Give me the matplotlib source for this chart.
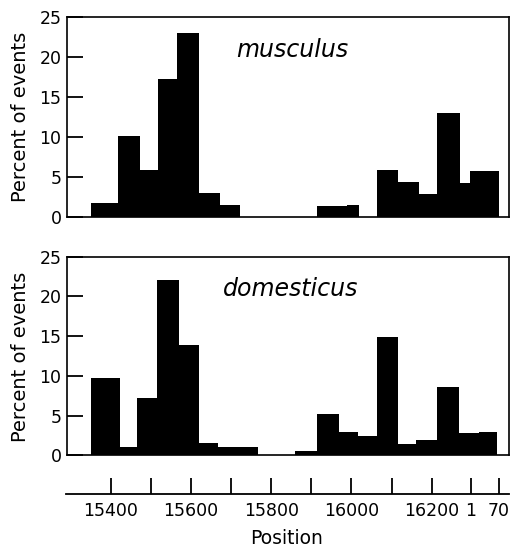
import matplotlib
matplotlib.use("Agg")
from matplotlib import pyplot as plt
import numpy as np

# bin edges (position, bp; after the origin the count goes on past 16298) and heights
mus_edges_a = [15352, 15419, 15473, 15519, 15566, 15621, 15673, 15723]
mus_vals_a = [1.7, 10.1, 5.9, 17.2, 23.0, 3.0, 1.5]
mus_edges_b = [15916, 15990, 16021]
mus_vals_b = [1.4, 1.5]
mus_edges_c = [16065, 16119, 16171, 16216, 16273, 16298, 16369]
mus_vals_c = [5.8, 4.4, 2.9, 13.0, 4.25, 5.75]

dom_edges_a = [15350, 15423, 15466, 15516, 15571, 15621, 15669, 15769]
dom_vals_a = [9.7, 1.05, 7.25, 22.05, 13.85, 1.5, 1.0]
dom_edges_b = [15861, 15915, 15971, 16019, 16065, 16119, 16163, 16215, 16271, 16321, 16365]
dom_vals_b = [0.6, 5.15, 2.95, 2.45, 14.85, 1.4, 1.95, 8.55, 2.85, 2.95]

xtick_pos = [15400, 15500, 15600, 15700, 15800, 15900, 16000, 16100, 16200, 16298, 16367]
xtick_lab = ["15400", "", "15600", "", "15800", "", "16000", "", "16200", "1", "70"]
yticks = [0, 5, 10, 15, 20, 25]

XMIN, XMAX = 15291, 16396
FS = 12.5

plt.rcParams['font.family'] = 'DejaVu Sans'
fig = plt.figure(figsize=(5.11, 5.5), dpi=100)


def draw_bars(ax, edges, vals):
	edges = np.array(edges, dtype=float)
	ax.bar(edges[:-1], vals, width=np.diff(edges), align='edge', color='black', linewidth=0)


def panel(rect, groups, name, name_x):
	ax = fig.add_axes(rect)
	for edges, vals in groups:
		draw_bars(ax, edges, vals)
	ax.set_xlim(XMIN, XMAX)
	ax.set_ylim(0, 25)
	ax.set_xticks([])
	ax.set_yticks(yticks)
	ax.tick_params(axis='y', direction='in', length=11.5, width=1.3, labelsize=FS, pad=4)
	for s in ax.spines.values():
		s.set_linewidth(1.2)
	ax.text(name_x, 20, name, style='italic', fontsize=17, ha='left', va='baseline')
	return ax


ax1 = panel([0.1311, 0.606, 0.8656, 0.3636],
	[(mus_edges_a, mus_vals_a), (mus_edges_b, mus_vals_b), (mus_edges_c, mus_vals_c)],
	"musculus", 15713)
ax2 = panel([0.1311, 0.172, 0.8656, 0.3616],
	[(dom_edges_a, dom_vals_a), (dom_edges_b, dom_vals_b)],
	"domesticus", 15680)

fig.text(21 / 511, 1 - 117 / 550, "Percent of events", rotation=90, ha='center', va='center', fontsize=14)
fig.text(21 / 511, 1 - 357 / 550, "Percent of events", rotation=90, ha='center', va='center', fontsize=14)

# separate position axis below the panels
ax3 = fig.add_axes([0.1292, 0.1018, 0.8660, 0.001])
ax3.set_xlim(XMIN - 3, XMAX - 4)
ax3.set_ylim(0, 1)
for k in ['left', 'right', 'top']:
	ax3.spines[k].set_visible(False)
ax3.spines['bottom'].set_linewidth(1.3)
ax3.set_yticks([])
ax3.set_xticks(xtick_pos)
ax3.set_xticklabels(xtick_lab)
ax3.tick_params(axis='x', direction='in', length=11.5, width=1.3, labelsize=FS, pad=5.5)
ax3.patch.set_visible(False)

fig.text(287 / 511, 1 - 538 / 550, "Position", ha='center', va='center', fontsize=13.5)

plt.savefig("out.png", dpi=100)
